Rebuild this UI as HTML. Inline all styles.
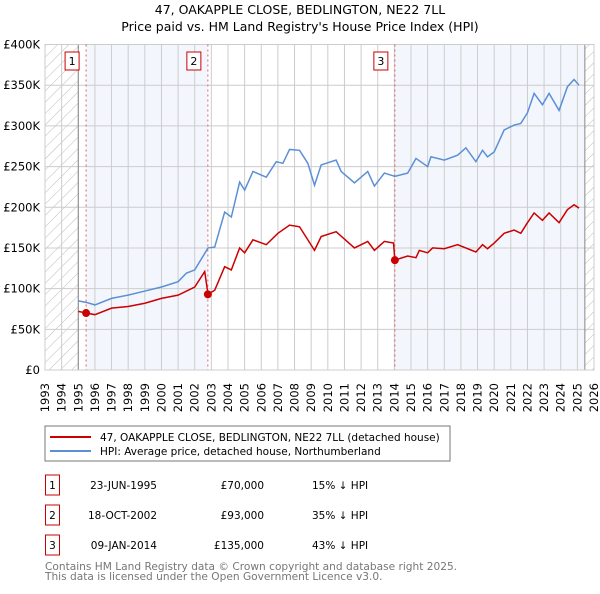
<!DOCTYPE html>
<html><head><meta charset="utf-8"><style>
body{margin:0;background:#fff;font-family:"DejaVu Sans","Liberation Sans",sans-serif}
svg text{font-family:"DejaVu Sans","Liberation Sans",sans-serif}
</style></head><body>
<svg id="c" width="600" height="590" viewBox="0 0 600 590">
<defs><pattern id="hatch" width="8" height="8" patternUnits="userSpaceOnUse" patternTransform="rotate(45)"><line x1="0" y1="0" x2="0" y2="8" stroke="#bbb" stroke-width="1"/></pattern></defs>
<text x="300" y="14" text-anchor="middle" font-size="12.5">47, OAKAPPLE CLOSE, BEDLINGTON, NE22 7LL</text>
<text x="300" y="31" text-anchor="middle" font-size="12.5">Price paid vs. HM Land Registry's House Price Index (HPI)</text>
<g id="plot"></g>
<rect x="45" y="426" width="405" height="35" fill="#fff" stroke="#777"/>
<line x1="50" y1="437" x2="91" y2="437" stroke="#cc0000" stroke-width="2"/>
<text x="100" y="441" font-size="10.5">47, OAKAPPLE CLOSE, BEDLINGTON, NE22 7LL (detached house)</text>
<line x1="50" y1="451" x2="91" y2="451" stroke="#5b8fd6" stroke-width="2"/>
<text x="100" y="455" font-size="10.5">HPI: Average price, detached house, Northumberland</text>
<g id="tbl" font-size="10.5"></g>
<text x="45" y="570" font-size="10.6" fill="#777">Contains HM Land Registry data © Crown copyright and database right 2025.</text>
<text x="45" y="580" font-size="10.6" fill="#777">This data is licensed under the Open Government Licence v3.0.</text>
</svg>
<script>
const yTicks=[0,50000,100000,150000,200000,250000,300000,350000,400000];
const yTickLabels=["£0","£50K","£100K","£150K","£200K","£250K","£300K","£350K","£400K"];
const years=[1993,1994,1995,1996,1997,1998,1999,2000,2001,2002,2003,2004,2005,2006,2007,2008,2009,2010,2011,2012,2013,2014,2015,2016,2017,2018,2019,2020,2021,2022,2023,2024,2025,2026];
const hpiT=[1995,1995.5,1996,1997,1998,1999,2000,2001,2001.5,2002,2002.8,2003.2,2003.8,2004.2,2004.7,2005,2005.5,2006.3,2006.9,2007.3,2007.7,2008.3,2008.8,2009.2,2009.6,2010.5,2010.8,2011.6,2012.4,2012.8,2013.4,2014.03,2014.8,2015.3,2016,2016.2,2017,2017.8,2018.3,2018.9,2019.3,2019.6,2020,2020.6,2021.2,2021.6,2022,2022.4,2022.9,2023.3,2023.9,2024.4,2024.8,2025.1];
const hpiV=[85000,83000,80000,88000,92000,97000,102000,108500,119000,123000,150000,151000,194000,188000,231000,221000,244000,237000,256000,254000,271000,270000,254000,227000,252000,258000,244000,230000,244000,226000,242000,238000,242000,260000,250000,262000,258000,264000,273000,256000,270000,262000,268000,295000,301000,303000,316000,340000,326000,340000,319000,348000,357000,350000];
const ppT=[1995,1995.47,1996,1997,1998,1999,2000,2001,2002,2002.6,2002.8,2003.2,2003.8,2004.2,2004.7,2005,2005.5,2006.3,2007,2007.7,2008.3,2009.2,2009.6,2010.5,2011.6,2012.4,2012.8,2013.4,2013.95,2014.03,2014.8,2015.3,2015.5,2016,2016.3,2017,2017.8,2018.9,2019.3,2019.6,2020,2020.6,2021.2,2021.6,2022,2022.4,2022.9,2023.3,2023.9,2024.4,2024.8,2025.1];
const ppV=[72000,70000,68000,76000,78000,82000,88000,92000,102000,121000,93000,98000,127000,123000,150000,144000,160000,154000,168000,178000,176000,147000,164000,170000,150000,158000,147000,158000,156000,135000,140000,138000,147000,144000,150000,149000,154000,145000,154000,149000,156000,168000,172000,168000,181000,193000,184000,193000,181000,197000,203000,199000];
const saleT=[1995.47,2002.79,2014.03];
const saleV=[70000,93000,135000];
const saleLabels=["1","2","3"];
const saleDates=["23-JUN-1995","18-OCT-2002","09-JAN-2014"];
const salePrices=["£70,000","£93,000","£135,000"];
const saleDiffs=["15% ↓ HPI","35% ↓ HPI","43% ↓ HPI"];
const X0=45,X1=594,Y0=370,Y1=44.5;
const xs=t=>X0+(t-1993)/(2026-1993)*(X1-X0);
const ys=v=>Y0-v/400000*(Y0-Y1);
const NS="http://www.w3.org/2000/svg";
function mk(tag,attrs,parent){const e=document.createElementNS(NS,tag);for(const k in attrs)e.setAttribute(k,attrs[k]);parent.appendChild(e);return e;}
const g=document.getElementById('plot');
let e;
e=mk('rect',{x:xs(1995.47),y:Y1,width:xs(2002.79)-xs(1995.47),height:Y0-Y1,fill:'#eef3fc',opacity:0.7},g);


e=mk('rect',{x:xs(2014.03),y:Y1,width:xs(2025.45)-xs(2014.03),height:Y0-Y1,fill:'#eef3fc',opacity:0.7},g);


e=mk('rect',{x:X0,y:Y1,width:xs(1995)-X0,height:Y0-Y1,fill:'url(#hatch)'},g);


e=mk('rect',{x:xs(2025.45),y:Y1,width:X1-xs(2025.45),height:Y0-Y1,fill:'url(#hatch)'},g);


years.forEach(yr=>{
 e=mk('line',{x1:xs(yr),x2:xs(yr),y1:Y1,y2:Y0,stroke:'#ccc','stroke-width':1},g);
 
 
 e=mk('text',{x:0,y:0,transform:`translate(${xs(yr)+4},383) rotate(-90)`,'text-anchor':'end','font-size':'11.5'},g);
 e.textContent=yr;
 
 
});
yTicks.forEach((v,i)=>{
 e=mk('line',{x1:X0,x2:X1,y1:ys(v),y2:ys(v),stroke:'#ccc','stroke-width':1},g);
 
 
 e=mk('text',{x:40,y:ys(v)+4,'text-anchor':'end','font-size':'11.5'},g);
 e.textContent=yTickLabels[i];
 
 
});
e=mk('line',{x1:xs(1995),x2:xs(1995),y1:Y1,y2:Y0,stroke:'#888'},g);


e=mk('line',{x1:xs(2025.45),x2:xs(2025.45),y1:Y1,y2:Y0,stroke:'#888'},g);


e=mk('rect',{x:X0,y:Y1,width:X1-X0,height:Y0-Y1,fill:'none',stroke:'#ccc'},g);


saleT.forEach((t,i)=>{
 e=mk('line',{x1:xs(t),x2:xs(t),y1:Y1,y2:Y0,stroke:'#e06060','stroke-dasharray':'2,3'},g);
 
 
 e=mk('rect',{x:xs(t)-21,y:52,width:14,height:18,fill:'#fff',stroke:'#cc0000'},g);
 
 
 e=mk('text',{x:xs(t)-14,y:65,'text-anchor':'middle','font-size':'11'},g);
 e.textContent=saleLabels[i];
 
 
});
e=mk('polyline',{points:hpiT.map((t,i)=>xs(t)+','+ys(hpiV[i])).join(' '),fill:'none',stroke:'#5b8fd6','stroke-width':1.5},g);


e=mk('polyline',{points:ppT.map((t,i)=>xs(t)+','+ys(ppV[i])).join(' '),fill:'none',stroke:'#cc0000','stroke-width':1.5},g);


saleT.forEach((t,i)=>{
 e=mk('circle',{cx:xs(t),cy:ys(saleV[i]),r:4,fill:'#cc0000'},g);
 
 
});
const tb=document.getElementById('tbl');
saleLabels.forEach((l,i)=>{
 const y=485+i*30;
 e=mk('rect',{x:45.5,y:y-10,width:14,height:20,fill:'#fff',stroke:'#cc0000'},tb);
 
 
 e=mk('text',{x:52.5,y:y+4,'text-anchor':'middle'},tb);
 e.textContent=l;
 
 
 e=mk('text',{x:157,y:y+4,'text-anchor':'end'},tb);
 e.textContent=saleDates[i];
 
 
 e=mk('text',{x:264,y:y+4,'text-anchor':'end'},tb);
 e.textContent=salePrices[i];
 
 
 e=mk('text',{x:312,y:y+4},tb);
 e.textContent=saleDiffs[i];
 
 
});
</script>
</body></html>
